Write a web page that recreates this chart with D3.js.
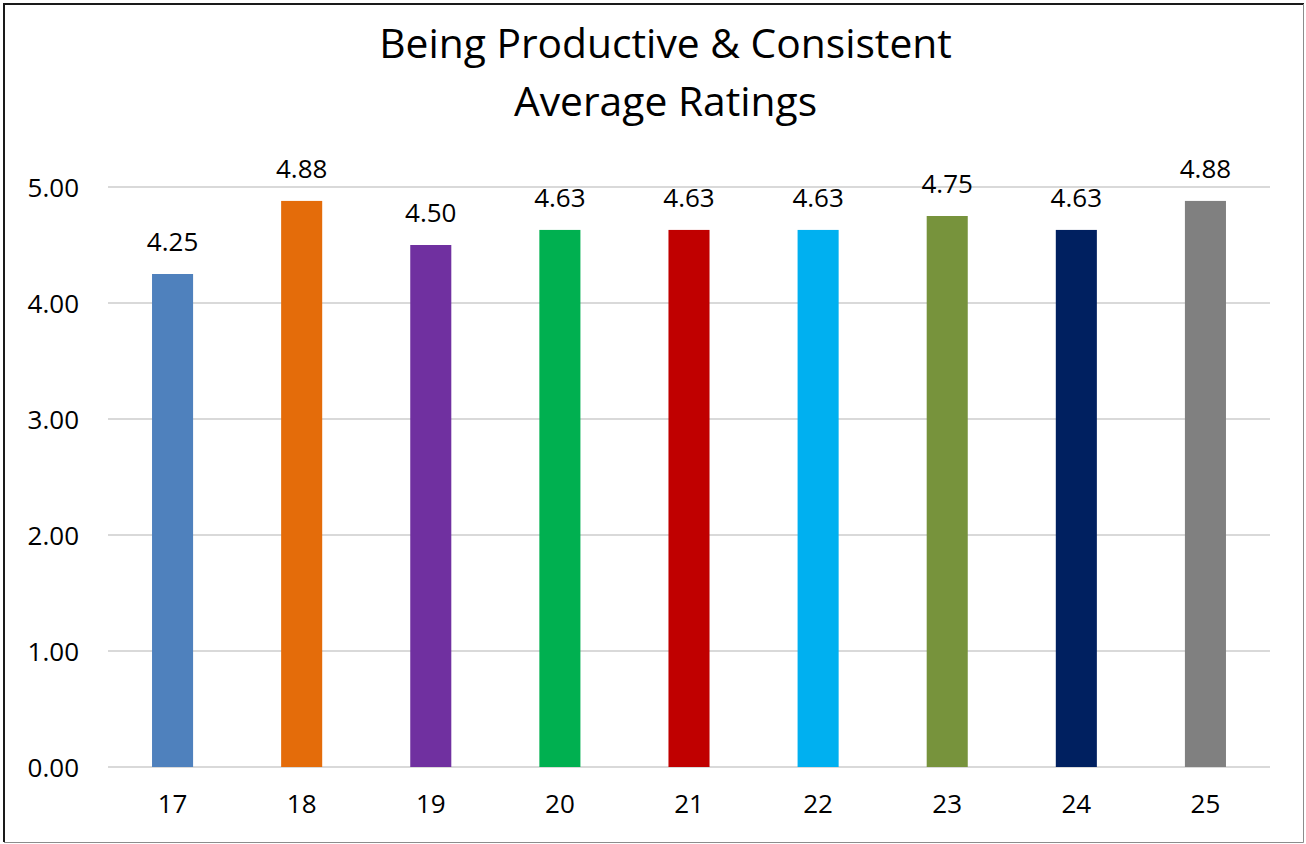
<!DOCTYPE html>
<html>
<head>
<meta charset="utf-8">
<script src="https://cdn.jsdelivr.net/npm/d3@7"></script>
<style>
  html, body { margin: 0; padding: 0; background: #fff; }
  svg { display: block; }
  text { font-family: "Open Sans", "Noto Sans", sans-serif; fill: #000; }
</style>
</head>
<body>
<svg id="chart" width="1306" height="844"></svg>
<script>
const categories = ["17", "18", "19", "20", "21", "22", "23", "24", "25"];
const values = [4.25, 4.88, 4.50, 4.63, 4.63, 4.63, 4.75, 4.63, 4.88];
const colors = ["#4F81BD", "#E46C0A", "#7030A0", "#00B050", "#C00000", "#00B0F0", "#77933C", "#002060", "#808080"];
const yTicks = [0, 1, 2, 3, 4, 5];
const titleLines = ["Being Productive & Consistent", "Average Ratings"];

const svg = d3.select("#chart");
const W = 1306, H = 844;
const plot = { left: 108, right: 1270, top: 187, bottom: 767 };

// outer border
svg.append("path")
  .attr("d", `M4,${H - 2} L4,4 L${W - 2},4`)
  .attr("fill", "none").attr("stroke", "#1a1a1a").attr("stroke-width", 2);
svg.append("path")
  .attr("d", `M${W - 2.5},4 L${W - 2.5},${H - 1.5} L4,${H - 1.5}`)
  .attr("fill", "none").attr("stroke", "#8c8c8c").attr("stroke-width", 1);

const x = d3.scaleBand().domain(categories).range([plot.left, plot.right]).paddingInner(0.682).paddingOuter(0.341);
const y = d3.scaleLinear().domain([0, 5]).range([plot.bottom, plot.top]);

// gridlines
svg.append("g").selectAll("line").data(yTicks).join("line")
  .attr("x1", plot.left).attr("x2", plot.right)
  .attr("y1", d => y(d)).attr("y2", d => y(d))
  .attr("stroke", "#d9d9d9").attr("stroke-width", 2);

// y axis labels
const yAxis = d3.axisLeft(y).tickValues(yTicks).tickFormat(d3.format(".2f")).tickSize(0).tickPadding(0);
const gy = svg.append("g").attr("transform", `translate(79,0)`).call(yAxis);
gy.select(".domain").remove();
gy.selectAll("text").style("font-size", "26px").style("font-family", "'Open Sans', sans-serif").attr("fill", "#000").attr("dy", "0.35em");

// bars
svg.append("g").selectAll("rect").data(values).join("rect")
  .attr("x", (d, i) => x(categories[i]))
  .attr("width", x.bandwidth())
  .attr("y", d => y(d))
  .attr("height", d => y(0) - y(d))
  .attr("fill", (d, i) => colors[i]);

// data labels
svg.append("g").selectAll("text").data(values).join("text")
  .attr("x", (d, i) => x(categories[i]) + x.bandwidth() / 2)
  .attr("y", d => y(d) - 23)
  .attr("text-anchor", "middle")
  .style("font-size", "26px")
  .text(d => d3.format(".2f")(d));

// x axis labels
const xAxis = d3.axisBottom(x).tickSize(0).tickPadding(0);
const gx = svg.append("g").attr("transform", `translate(0,${plot.bottom})`).call(xAxis);
gx.select(".domain").remove();
gx.selectAll("text").style("font-size", "26px").style("font-family", "'Open Sans', sans-serif").attr("fill", "#000").attr("y", 46).attr("dy", 0);

// title
const cx = (379 + 952) / 2;
const t1 = svg.append("text").attr("x", cx).attr("y", 58).attr("text-anchor", "middle").style("font-size", "40px").text(titleLines[0]);
const w1 = t1.node().getComputedTextLength();
const fs = 40 * 573 / w1;
t1.style("font-size", fs + "px");
svg.append("text").attr("x", cx).attr("y", 116).attr("text-anchor", "middle").style("font-size", fs + "px").text(titleLines[1]);
</script>
</body>
</html>
